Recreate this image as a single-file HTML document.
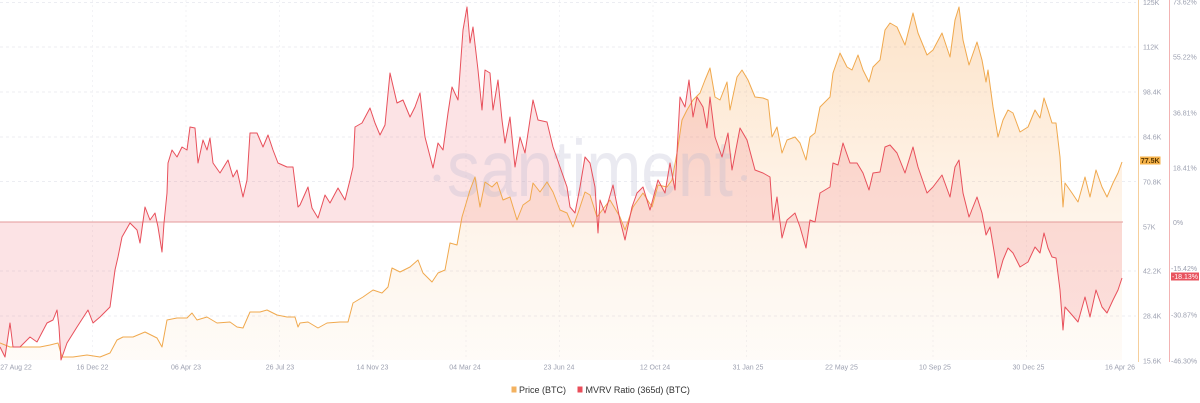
<!DOCTYPE html>
<html><head><meta charset="utf-8"><style>
html,body{margin:0;padding:0;background:#fff;}
svg{display:block;font-family:"Liberation Sans",sans-serif;}
</style></head><body>
<svg width="1200" height="403" viewBox="0 0 1200 403" xmlns="http://www.w3.org/2000/svg">
<defs>
<linearGradient id="pg" gradientUnits="userSpaceOnUse" x1="0" y1="0" x2="0" y2="360">
<stop offset="0" stop-color="#f7a046" stop-opacity="0.30"/>
<stop offset="0.5" stop-color="#f7a046" stop-opacity="0.14"/>
<stop offset="1" stop-color="#f7a046" stop-opacity="0.04"/>
</linearGradient>
</defs>
<rect width="1200" height="403" fill="#fff"/>
<!-- grid -->
<g stroke="#e6e7ee" stroke-width="0.8" stroke-dasharray="3,3" fill="none">
<line x1="0" y1="2.5" x2="1136" y2="2.5"/>
<line x1="0" y1="47" x2="1136" y2="47"/>
<line x1="0" y1="92" x2="1136" y2="92"/>
<line x1="0" y1="137" x2="1136" y2="137"/>
<line x1="0" y1="181.5" x2="1136" y2="181.5"/>
<line x1="0" y1="271" x2="1136" y2="271"/>
<line x1="0" y1="316" x2="1136" y2="316"/>
</g>
<g stroke="#f0f0f4" stroke-width="0.8" stroke-dasharray="2,3" fill="none">
<line x1="92.5" y1="0" x2="92.5" y2="360"/><line x1="186" y1="0" x2="186" y2="360"/>
<line x1="279.5" y1="0" x2="279.5" y2="360"/><line x1="373" y1="0" x2="373" y2="360"/>
<line x1="466" y1="0" x2="466" y2="360"/><line x1="559.5" y1="0" x2="559.5" y2="360"/>
<line x1="653" y1="0" x2="653" y2="360"/><line x1="746.5" y1="0" x2="746.5" y2="360"/>
<line x1="840" y1="0" x2="840" y2="360"/><line x1="933" y1="0" x2="933" y2="360"/>
<line x1="1026.5" y1="0" x2="1026.5" y2="360"/>
</g>
<!-- price fill -->
<polygon fill="url(#pg)" points="0,360 0,343 10,347 20,347 30,347 40,347 50,345 58,343 62,357 73,357 87,355 100,357 110,353 117,340 123,337 133,337 145,332 157,338 162,347 167,320 177,318 187,318 192,313 197,320 207,317 217,323 230,322 237,327 243,328 250,312 260,312 267,310 277,315 287,317 295,317 298,327 300,323 308,322 318,328 327,323 340,322 348,322 353,303 363,297 373,290 382,293 388,287 392,268 400,272 410,267 418,260 423,273 432,282 438,273 445,270 450,243 457,245 462,217 465,207 470,190 475,177 480,207 485,182 492,187 497,182 503,200 510,197 517,220 523,205 530,200 533,183 540,192 547,182 553,192 560,210 567,213 573,227 578,213 585,192 590,195 597,217 600,213 610,200 620,217 625,230 633,207 643,193 652,207 658,185 667,187 672,180 677,153 682,120 687,110 693,100 700,93 705,80 710,68 715,97 720,100 727,82 730,110 737,77 742,70 748,80 755,97 763,98 768,100 772,137 777,127 782,153 787,140 795,137 800,143 806,160 810,137 815,133 820,107 830,97 833,73 840,53 847,67 852,70 858,55 863,70 869,82 873,67 880,60 885,30 890,23 897,27 905,45 913,13 918,33 927,55 933,50 942,33 950,57 955,20 959,7 963,40 969,65 977,42 982,60 986,82 988,70 993,107 998,137 1003,120 1008,110 1013,113 1020,132 1028,127 1035,110 1040,118 1044,98 1048,110 1052,123 1056,123 1060,157 1063,207 1065,183 1072,193 1078,202 1085,177 1090,197 1096,170 1102,187 1107,197 1113,183 1118,173 1122,162 1122,360"/>
<!-- mvrv fill -->
<polygon fill="#ec4f5c" fill-opacity="0.16" points="0,222 0,347 5,357 10,323 13,347 20,347 30,337 37,342 47,323 53,320 57,310 59,327 61,360 67,343 77,327 88,310 93,323 100,317 110,307 115,270 118,257 122,237 130,223 137,230 140,243 145,207 150,220 155,213 158,227 162,252 164,223 167,193 168,163 172,150 177,157 182,147 187,150 190,127 195,128 198,163 203,140 207,150 210,138 213,163 220,173 228,160 233,177 237,170 243,197 247,180 250,133 257,133 263,147 268,135 273,150 278,163 287,167 293,167 298,207 300,205 308,187 312,208 318,218 325,195 330,203 338,188 345,200 350,180 353,167 355,127 362,123 370,108 375,123 380,135 385,125 390,73 397,103 403,100 410,117 415,107 420,93 425,137 433,168 438,143 443,150 448,113 452,87 458,100 463,30 467,7 470,43 473,27 478,70 482,110 485,70 490,73 493,110 498,80 502,120 505,143 510,117 515,167 520,137 525,153 533,100 538,120 547,122 553,147 560,167 567,187 570,207 575,213 580,187 585,157 590,163 595,187 598,233 600,200 605,213 613,185 620,220 625,240 632,207 637,193 643,187 650,210 658,180 665,193 670,163 675,190 680,97 685,107 689,80 693,117 697,97 703,107 707,128 710,97 715,137 722,157 728,133 732,170 740,128 747,140 755,170 763,173 770,177 773,220 777,197 782,238 787,220 795,213 800,227 806,248 810,220 815,222 820,193 830,187 833,163 838,165 843,143 850,163 857,163 863,173 869,190 873,173 880,172 885,147 890,145 897,153 905,173 913,147 918,167 927,193 933,187 942,175 950,197 955,167 959,160 963,193 969,217 977,197 982,213 986,235 990,227 995,257 998,278 1003,260 1008,248 1013,253 1020,267 1028,262 1035,247 1040,253 1044,233 1048,248 1052,257 1056,258 1060,290 1063,330 1065,307 1072,315 1078,322 1085,297 1090,317 1096,290 1102,307 1107,313 1113,300 1118,290 1122,278 1122,222"/>
<!-- watermark -->
<g fill="#b9b9cf" fill-opacity="0.3">
<circle cx="437" cy="178" r="3.5"/>
<text x="447" y="196" font-size="80" textLength="286" lengthAdjust="spacingAndGlyphs">santiment</text>
<circle cx="744" cy="178" r="3"/>
</g>
<!-- zero line -->
<line x1="0" y1="222" x2="1123" y2="222" stroke="#e39a9a" stroke-width="1"/>
<!-- price line -->
<polyline fill="none" stroke="#f0a94e" stroke-width="1" stroke-linejoin="round" points="0,343 10,347 20,347 30,347 40,347 50,345 58,343 62,357 73,357 87,355 100,357 110,353 117,340 123,337 133,337 145,332 157,338 162,347 167,320 177,318 187,318 192,313 197,320 207,317 217,323 230,322 237,327 243,328 250,312 260,312 267,310 277,315 287,317 295,317 298,327 300,323 308,322 318,328 327,323 340,322 348,322 353,303 363,297 373,290 382,293 388,287 392,268 400,272 410,267 418,260 423,273 432,282 438,273 445,270 450,243 457,245 462,217 465,207 470,190 475,177 480,207 485,182 492,187 497,182 503,200 510,197 517,220 523,205 530,200 533,183 540,192 547,182 553,192 560,210 567,213 573,227 578,213 585,192 590,195 597,217 600,213 610,200 620,217 625,230 633,207 643,193 652,207 658,185 667,187 672,180 677,153 682,120 687,110 693,100 700,93 705,80 710,68 715,97 720,100 727,82 730,110 737,77 742,70 748,80 755,97 763,98 768,100 772,137 777,127 782,153 787,140 795,137 800,143 806,160 810,137 815,133 820,107 830,97 833,73 840,53 847,67 852,70 858,55 863,70 869,82 873,67 880,60 885,30 890,23 897,27 905,45 913,13 918,33 927,55 933,50 942,33 950,57 955,20 959,7 963,40 969,65 977,42 982,60 986,82 988,70 993,107 998,137 1003,120 1008,110 1013,113 1020,132 1028,127 1035,110 1040,118 1044,98 1048,110 1052,123 1056,123 1060,157 1063,207 1065,183 1072,193 1078,202 1085,177 1090,197 1096,170 1102,187 1107,197 1113,183 1118,173 1122,162"/>
<!-- mvrv line -->
<polyline fill="none" stroke="#e8505b" stroke-width="1" stroke-linejoin="round" points="0,347 5,357 10,323 13,347 20,347 30,337 37,342 47,323 53,320 57,310 59,327 61,360 67,343 77,327 88,310 93,323 100,317 110,307 115,270 118,257 122,237 130,223 137,230 140,243 145,207 150,220 155,213 158,227 162,252 164,223 167,193 168,163 172,150 177,157 182,147 187,150 190,127 195,128 198,163 203,140 207,150 210,138 213,163 220,173 228,160 233,177 237,170 243,197 247,180 250,133 257,133 263,147 268,135 273,150 278,163 287,167 293,167 298,207 300,205 308,187 312,208 318,218 325,195 330,203 338,188 345,200 350,180 353,167 355,127 362,123 370,108 375,123 380,135 385,125 390,73 397,103 403,100 410,117 415,107 420,93 425,137 433,168 438,143 443,150 448,113 452,87 458,100 463,30 467,7 470,43 473,27 478,70 482,110 485,70 490,73 493,110 498,80 502,120 505,143 510,117 515,167 520,137 525,153 533,100 538,120 547,122 553,147 560,167 567,187 570,207 575,213 580,187 585,157 590,163 595,187 598,233 600,200 605,213 613,185 620,220 625,240 632,207 637,193 643,187 650,210 658,180 665,193 670,163 675,190 680,97 685,107 689,80 693,117 697,97 703,107 707,128 710,97 715,137 722,157 728,133 732,170 740,128 747,140 755,170 763,173 770,177 773,220 777,197 782,238 787,220 795,213 800,227 806,248 810,220 815,222 820,193 830,187 833,163 838,165 843,143 850,163 857,163 863,173 869,190 873,173 880,172 885,147 890,145 897,153 905,173 913,147 918,167 927,193 933,187 942,175 950,197 955,167 959,160 963,193 969,217 977,197 982,213 986,235 990,227 995,257 998,278 1003,260 1008,248 1013,253 1020,267 1028,262 1035,247 1040,253 1044,233 1048,248 1052,257 1056,258 1060,290 1063,330 1065,307 1072,315 1078,322 1085,297 1090,317 1096,290 1102,307 1107,313 1113,300 1118,290 1122,278"/>
<!-- axes lines -->
<line x1="1138.5" y1="0" x2="1138.5" y2="362" stroke="#f6cf9c" stroke-width="1"/>
<line x1="1169.5" y1="0" x2="1169.5" y2="362" stroke="#f2b3b3" stroke-width="1"/>
<!-- price labels -->
<g font-size="7" fill="#9ca0b0">
<text x="1143" y="5">125K</text>
<text x="1143" y="49.5">112K</text>
<text x="1143" y="94.5">98.4K</text>
<text x="1143" y="139.5">84.6K</text>
<text x="1143" y="184.5">70.8K</text>
<text x="1143" y="229.5">57K</text>
<text x="1143" y="273.5">42.2K</text>
<text x="1143" y="318.5">28.4K</text>
<text x="1143" y="363.5">15.6K</text>
</g>
<g font-size="7" fill="#9ca0b0">
<text x="1173" y="4.5">73.62%</text>
<text x="1173" y="59.5">55.22%</text>
<text x="1173" y="115.5">36.81%</text>
<text x="1173" y="170.5">18.41%</text>
<text x="1173" y="225">0%</text>
<text x="1171" y="271">-15.42%</text>
<text x="1171" y="317.5">-30.87%</text>
<text x="1171" y="363.5">-46.30%</text>
</g>
<!-- badges -->
<rect x="1140" y="156.5" width="20.5" height="8" fill="#f5b24a"/>
<text x="1150.2" y="163" font-size="7" fill="#5a3800" text-anchor="middle" font-weight="bold">77.5K</text>
<rect x="1171" y="272.5" width="28" height="8" fill="#e8535e"/>
<text x="1185" y="279" font-size="7" fill="#ffffff" text-anchor="middle">-18.13%</text>
<!-- date labels -->
<g font-size="7" fill="#9ca0b0" text-anchor="middle">
<text x="16" y="369.5">27 Aug 22</text>
<text x="92.5" y="369.5">16 Dec 22</text>
<text x="186" y="369.5">06 Apr 23</text>
<text x="280" y="369.5">26 Jul 23</text>
<text x="372.5" y="369.5">14 Nov 23</text>
<text x="465" y="369.5">04 Mar 24</text>
<text x="559" y="369.5">23 Jun 24</text>
<text x="655" y="369.5">12 Oct 24</text>
<text x="748" y="369.5">31 Jan 25</text>
<text x="841.5" y="369.5">22 May 25</text>
<text x="935" y="369.5">10 Sep 25</text>
<text x="1028.5" y="369.5">30 Dec 25</text>
<text x="1120" y="369.5">16 Apr 26</text>
</g>
<!-- legend -->
<rect x="511.5" y="386.5" width="5" height="6" fill="#f3b260"/>
<text x="519" y="393.2" font-size="9" fill="#333">Price (BTC)</text>
<rect x="577.5" y="386.5" width="5" height="6" fill="#ea4e5a"/>
<text x="585.5" y="393.2" font-size="9" fill="#333">MVRV Ratio (365d) (BTC)</text>
</svg>
</body></html>
